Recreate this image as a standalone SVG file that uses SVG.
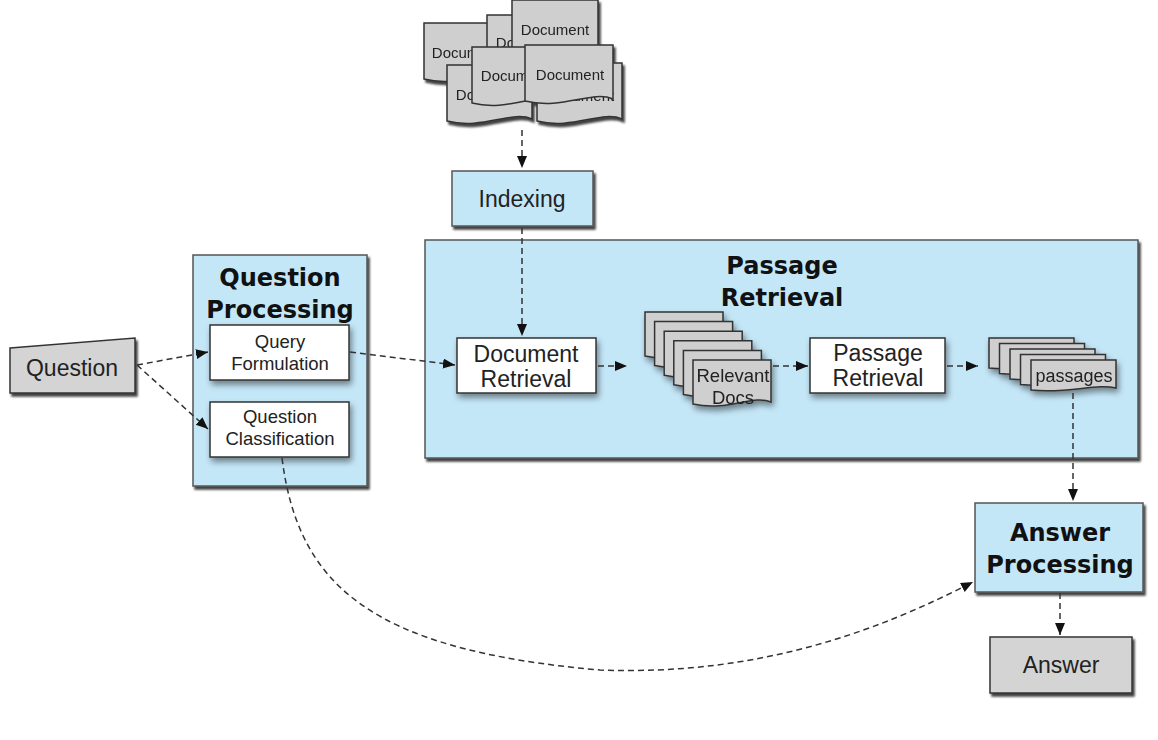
<svg xmlns="http://www.w3.org/2000/svg" width="1158" height="740" viewBox="0 0 1158 740">
<defs>
<filter id="sh" x="-10%" y="-10%" width="130%" height="130%">
<feDropShadow dx="2" dy="3" stdDeviation="1.2" flood-color="#000" flood-opacity="0.75"/>
</filter>
<filter id="soft" x="-20%" y="-20%" width="150%" height="160%">
<feDropShadow dx="2" dy="4" stdDeviation="3" flood-color="#000" flood-opacity="0.45"/>
</filter>
<marker id="ah" markerUnits="userSpaceOnUse" markerWidth="14" markerHeight="12" refX="12" refY="5" orient="auto">
<path d="M0,0 L12,5 L0,10 Z" fill="#111"/>
</marker>
</defs>
<style>
.blue{fill:#c4e7f8;stroke:#555;stroke-width:1.5}
.white{fill:#fff;stroke:#333;stroke-width:1.5}
.gray{fill:#d4d4d4;stroke:#333;stroke-width:1.5}
.doc{fill:#cfcfcf;stroke:#333;stroke-width:1.5}
.t{font-family:"Liberation Sans",Arial,sans-serif;fill:#222;text-anchor:middle}
.b{font-family:"DejaVu Sans",Verdana,sans-serif;font-weight:bold;fill:#111;text-anchor:middle;font-size:24px}
.c{fill:none;stroke:#333;stroke-width:1.5;stroke-dasharray:6 4;marker-end:url(#ah)}
</style>
<rect width="1158" height="740" fill="#fff"/>

<g id="documents" filter="url(#sh)">
<path class="doc" d="M424,23 H509 V77 C489,68 460,88 424,79 Z"/>
<text class="t" x="466" y="58" font-size="15">Document</text>
<path class="doc" d="M487,15 H572 V66 C552,57 523,77 487,68 Z"/>
<text class="t" x="530" y="48" font-size="15">Document</text>
<path class="doc" d="M447,65 H532 V119 C512,110 483,130 447,121 Z"/>
<text class="t" x="490" y="100" font-size="15">Document</text>
<path class="doc" d="M537,63 H622 V119 C602,110 573,130 537,121 Z"/>
<text class="t" x="580" y="101" font-size="15">Document</text>
<path class="doc" d="M512,0 H598 V54 C578,45 549,65 512,56 Z"/>
<text class="t" x="555" y="35" font-size="15">Document</text>
<path class="doc" d="M472,47 H557 V101 C537,92 508,112 472,103 Z"/>
<text class="t" x="515" y="81" font-size="15">Document</text>
<path class="doc" d="M525,45 H613 V99 C592,90 563,110 525,101 Z"/>
<text class="t" x="570" y="80" font-size="15">Document</text>
</g>

<g id="indexing">
<rect class="blue" x="452" y="171" width="141" height="55" filter="url(#sh)"/>
<text class="t" x="522" y="207" font-size="23">Indexing</text>
</g>

<g id="passage-retrieval-group">
<rect class="blue" x="425" y="240" width="713" height="218" filter="url(#sh)"/>
<text class="b" x="782" y="274" font-size="23">Passage</text>
<text class="b" x="782" y="306" font-size="23">Retrieval</text>
</g>

<g id="question-processing">
<rect class="blue" x="193" y="255" width="174" height="231" filter="url(#sh)"/>
<text class="b" x="280" y="286">Question</text>
<text class="b" x="280" y="318">Processing</text>
</g>

<g id="question">
<path class="gray" d="M10,348 L135,338 L135,393 L10,393 Z" filter="url(#sh)"/>
<text class="t" x="72" y="376" font-size="23">Question</text>
</g>

<g id="query-formulation">
<rect class="white" x="210" y="325" width="139" height="55" filter="url(#soft)"/>
<text class="t" x="280" y="348" font-size="18.5">Query</text>
<text class="t" x="280" y="370" font-size="18.5">Formulation</text>
</g>

<g id="question-classification">
<rect class="white" x="210" y="402" width="139" height="55" filter="url(#soft)"/>
<text class="t" x="280" y="423" font-size="18.5">Question</text>
<text class="t" x="280" y="445" font-size="18.5">Classification</text>
</g>

<g id="document-retrieval">
<rect class="white" x="457" y="338" width="139" height="55" filter="url(#soft)"/>
<text class="t" x="526" y="362" font-size="23">Document</text>
<text class="t" x="526" y="387" font-size="23">Retrieval</text>
</g>

<g id="relevant-docs" filter="url(#soft)">
<path class="doc" d="M645,312 H723 V354 C705,346 680,364 645,356 Z"/>
<path class="doc" d="M654.6,321.6 H732.6 V363.6 C714.6,355.6 689.6,373.6 654.6,365.6 Z"/>
<path class="doc" d="M664.2,331.2 H742.2 V373.2 C724.2,365.2 699.2,383.2 664.2,375.2 Z"/>
<path class="doc" d="M673.8,340.8 H751.8 V382.8 C733.8,374.8 708.8,392.8 673.8,384.8 Z"/>
<path class="doc" d="M683.4,350.4 H761.4 V392.4 C743.4,384.4 718.4,402.4 683.4,394.4 Z"/>
<path class="doc" d="M693,360 H771 V402 C753,394 728,412 693,404 Z"/>
<text class="t" x="733" y="382" font-size="18.5">Relevant</text>
<text class="t" x="733" y="404" font-size="18.5">Docs</text>
</g>

<g id="passage-retrieval">
<rect class="white" x="810" y="338" width="135" height="55" filter="url(#soft)"/>
<text class="t" x="878" y="361" font-size="23">Passage</text>
<text class="t" x="878" y="386" font-size="23">Retrieval</text>
</g>

<g id="passages" filter="url(#soft)">
<path class="doc" d="M989,338 H1074 V366 C1054,361 1027,372 989,368 Z"/>
<path class="doc" d="M999.5,343.5 H1084.5 V371.5 C1064.5,366.5 1037.5,377.5 999.5,373.5 Z"/>
<path class="doc" d="M1010,349 H1095 V377 C1075,372 1048,383 1010,379 Z"/>
<path class="doc" d="M1020.5,354.5 H1105.5 V382.5 C1085.5,377.5 1058.5,388.5 1020.5,384.5 Z"/>
<path class="doc" d="M1031,360 H1116 V388 C1096,383 1069,394 1031,390 Z"/>
<text class="t" x="1074" y="382" font-size="18">passages</text>
</g>

<g id="answer-processing">
<rect class="blue" x="975" y="503" width="168" height="89" filter="url(#sh)"/>
<text class="b" x="1060" y="541">Answer</text>
<text class="b" x="1060" y="573">Processing</text>
</g>

<g id="answer">
<rect class="gray" x="990" y="637" width="142" height="56" filter="url(#sh)"/>
<text class="t" x="1061" y="673" font-size="23">Answer</text>
</g>

<g id="connectors">
<path class="c" d="M522,130 V168"/>
<path class="c" d="M522,228 V336"/>
<path class="c" d="M137,365 L208,352"/>
<path class="c" d="M137,365 L208,429"/>
<path class="c" d="M350,352 L455,365"/>
<path class="c" d="M598,366 H627"/>
<path class="c" d="M773,366 H808"/>
<path class="c" d="M947,366 H978"/>
<path class="c" d="M1073,393 V501"/>
<path class="c" d="M1060,593 V635"/>
<path class="c" d="M282,458 C298,585 370,650 600,670 C760,676 880,630 973,582"/>
</g>
</svg>
